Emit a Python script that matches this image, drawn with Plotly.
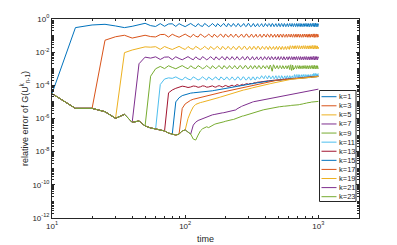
import plotly.graph_objects as go

# sample times (uniform step of 5 time units)
time = list(range(10, 1001, 5))

labels = ["k=1", "k=3", "k=5", "k=7", "k=9", "k=11", "k=13", "k=15", "k=17", "k=19", "k=21", "k=23"]
colors = ["#0072BD", "#D95319", "#EDB120", "#7E2F8E", "#77AC30", "#4DBEEE", "#A2142F",
          "#0072BD", "#D95319", "#EDB120", "#7E2F8E", "#77AC30"]

x_tick_vals = [10, 100, 1000]
x_tick_text = ["10<sup>1</sup>", "10<sup>2</sup>", "10<sup>3</sup>"]
y_tick_vals = [1e0, 1e-2, 1e-4, 1e-6, 1e-8, 1e-10, 1e-12]
y_tick_text = ["10<sup>0</sup>", "10<sup>-2</sup>", "10<sup>-4</sup>", "10<sup>-6</sup>",
               "10<sup>-8</sup>", "10<sup>-10</sup>", "10<sup>-12</sup>"]

# log10 of the relative error, one value per sample time
log_k1 = [
    -4.50, -0.52, -0.36, -0.32, -0.42, -0.52, -0.44, -0.32, -0.26, -0.40,
    -0.45, -0.28, -0.44, -0.30, -0.29, -0.45, -0.28, -0.38, -0.46, -0.36,
    -0.27, -0.38, -0.46, -0.28, -0.40, -0.45, -0.27, -0.36, -0.46, -0.39,
    -0.27, -0.37, -0.46, -0.28, -0.39, -0.46, -0.34, -0.27, -0.40, -0.46,
    -0.28, -0.33, -0.45, -0.40, -0.27, -0.35, -0.46, -0.39, -0.27, -0.36,
    -0.46, -0.43, -0.30, -0.27, -0.38, -0.46, -0.42, -0.29, -0.27, -0.39,
    -0.46, -0.44, -0.31, -0.27, -0.36, -0.46, -0.43, -0.29, -0.28, -0.40,
    -0.46, -0.41, -0.28, -0.28, -0.38, -0.46, -0.44, -0.32, -0.27, -0.34,
    -0.45, -0.45, -0.33, -0.27, -0.31, -0.43, -0.46, -0.37, -0.27, -0.30,
    -0.42, -0.46, -0.40, -0.28, -0.28, -0.39, -0.46, -0.42, -0.29, -0.27,
    -0.38, -0.46, -0.44, -0.32, -0.27, -0.33, -0.44, -0.46, -0.36, -0.27,
    -0.30, -0.42, -0.46, -0.40, -0.28, -0.28, -0.38, -0.46, -0.43, -0.30,
    -0.27, -0.35, -0.45, -0.45, -0.34, -0.27, -0.31, -0.43, -0.46, -0.38,
    -0.28, -0.29, -0.40, -0.46, -0.42, -0.29, -0.27, -0.37, -0.46, -0.44,
    -0.32, -0.27, -0.33, -0.44, -0.46, -0.36, -0.27, -0.30, -0.42, -0.46,
    -0.40, -0.28, -0.28, -0.39, -0.46, -0.43, -0.30, -0.27, -0.35, -0.45,
    -0.45, -0.33, -0.27, -0.31, -0.43, -0.46, -0.38, -0.28, -0.29, -0.41,
    -0.46, -0.41, -0.28, -0.28, -0.38, -0.46, -0.44, -0.31, -0.27, -0.34,
    -0.45, -0.45, -0.33, -0.26, -0.31, -0.43, -0.47, -0.37, -0.26, -0.30,
    -0.43, -0.46, -0.39, -0.27, -0.28, -0.40, -0.46, -0.41, -0.28,
]

log_k3 = [
    -4.50, -5.39, -5.39, -1.28, -1.07, -0.98, -1.15, -1.08, -0.98, -1.06,
    -1.08, -0.94, -0.93, -1.09, -0.92, -1.02, -1.10, -1.00, -0.91, -1.02,
    -1.10, -0.92, -1.04, -1.09, -0.91, -1.00, -1.10, -1.03, -0.91, -1.01,
    -1.10, -0.92, -1.03, -1.10, -0.98, -0.91, -1.04, -1.10, -0.92, -0.97,
    -1.09, -1.04, -0.91, -0.99, -1.10, -1.03, -0.91, -1.00, -1.10, -1.07,
    -0.94, -0.91, -1.02, -1.10, -1.06, -0.93, -0.91, -1.03, -1.10, -1.08,
    -0.95, -0.91, -1.00, -1.10, -1.07, -0.93, -0.92, -1.04, -1.10, -1.05,
    -0.92, -0.92, -1.02, -1.10, -1.08, -0.96, -0.91, -0.98, -1.09, -1.09,
    -0.97, -0.91, -0.95, -1.07, -1.10, -1.01, -0.91, -0.94, -1.06, -1.10,
    -1.04, -0.92, -0.92, -1.03, -1.10, -1.06, -0.93, -0.91, -1.02, -1.10,
    -1.08, -0.96, -0.91, -0.97, -1.08, -1.10, -1.00, -0.91, -0.94, -1.06,
    -1.10, -1.04, -0.92, -0.92, -1.02, -1.10, -1.07, -0.94, -0.91, -0.99,
    -1.09, -1.09, -0.98, -0.91, -0.95, -1.07, -1.10, -1.02, -0.92, -0.93,
    -1.04, -1.10, -1.06, -0.93, -0.91, -1.01, -1.10, -1.08, -0.96, -0.91,
    -0.97, -1.08, -1.10, -1.00, -0.91, -0.94, -1.06, -1.10, -1.04, -0.92,
    -0.92, -1.03, -1.10, -1.07, -0.94, -0.91, -0.99, -1.09, -1.09, -0.97,
    -0.91, -0.95, -1.07, -1.10, -1.02, -0.92, -0.93, -1.05, -1.10, -1.05,
    -0.92, -0.92, -1.02, -1.10, -1.08, -0.95, -0.91, -0.98, -1.09, -1.09,
    -0.97, -0.90, -0.95, -1.07, -1.11, -1.01, -0.90, -0.94, -1.07, -1.10,
    -1.03, -0.91, -0.92, -1.04, -1.10, -1.05, -0.92, -0.97, -1.09,
]

log_k5 = [
    -4.50, -5.39, -5.39, -5.59, -5.99, -2.03, -1.87, -1.78, -1.68, -1.70,
    -1.67, -1.83, -1.66, -1.76, -1.84, -1.74, -1.65, -1.76, -1.84, -1.66,
    -1.78, -1.83, -1.65, -1.74, -1.84, -1.77, -1.65, -1.75, -1.84, -1.66,
    -1.77, -1.84, -1.72, -1.65, -1.78, -1.84, -1.66, -1.71, -1.83, -1.78,
    -1.65, -1.73, -1.84, -1.77, -1.65, -1.74, -1.84, -1.81, -1.68, -1.65,
    -1.76, -1.84, -1.80, -1.67, -1.65, -1.77, -1.84, -1.82, -1.69, -1.65,
    -1.74, -1.84, -1.81, -1.67, -1.66, -1.78, -1.84, -1.79, -1.66, -1.66,
    -1.76, -1.84, -1.82, -1.70, -1.65, -1.72, -1.83, -1.83, -1.71, -1.65,
    -1.69, -1.81, -1.84, -1.75, -1.65, -1.68, -1.80, -1.84, -1.78, -1.66,
    -1.66, -1.77, -1.84, -1.80, -1.67, -1.65, -1.76, -1.84, -1.82, -1.70,
    -1.65, -1.71, -1.82, -1.84, -1.74, -1.65, -1.68, -1.80, -1.84, -1.78,
    -1.66, -1.66, -1.76, -1.84, -1.81, -1.68, -1.65, -1.73, -1.83, -1.83,
    -1.68, -1.61, -1.65, -1.77, -1.80, -1.72, -1.62, -1.63, -1.74, -1.80,
    -1.76, -1.63, -1.61, -1.71, -1.80, -1.78, -1.66, -1.61, -1.67, -1.78,
    -1.80, -1.70, -1.61, -1.64, -1.76, -1.80, -1.74, -1.62, -1.62, -1.73,
    -1.80, -1.77, -1.64, -1.61, -1.69, -1.79, -1.79, -1.67, -1.61, -1.65,
    -1.77, -1.80, -1.72, -1.62, -1.63, -1.75, -1.80, -1.75, -1.62, -1.62,
    -1.72, -1.80, -1.78, -1.65, -1.61, -1.68, -1.79, -1.79, -1.67, -1.60,
    -1.65, -1.77, -1.81, -1.71, -1.60, -1.64, -1.77, -1.80, -1.73, -1.61,
    -1.62, -1.74, -1.80, -1.75, -1.62, -1.67, -1.78, -1.80, -1.69,
]

log_k7 = [
    -4.50, -5.39, -5.39, -5.59, -5.99, -5.75, -6.23, -2.70, -2.30, -2.36,
    -2.28, -2.44, -2.30, -2.29, -2.45, -2.28, -2.38, -2.46, -2.36, -2.27,
    -2.38, -2.46, -2.28, -2.40, -2.45, -2.27, -2.36, -2.46, -2.39, -2.27,
    -2.37, -2.46, -2.28, -2.39, -2.46, -2.34, -2.27, -2.40, -2.46, -2.28,
    -2.33, -2.45, -2.40, -2.27, -2.35, -2.46, -2.39, -2.27, -2.36, -2.46,
    -2.43, -2.30, -2.27, -2.38, -2.46, -2.42, -2.29, -2.27, -2.39, -2.46,
    -2.44, -2.31, -2.27, -2.36, -2.46, -2.43, -2.29, -2.28, -2.40, -2.46,
    -2.41, -2.28, -2.28, -2.38, -2.46, -2.44, -2.32, -2.27, -2.34, -2.45,
    -2.45, -2.33, -2.27, -2.31, -2.43, -2.46, -2.37, -2.27, -2.30, -2.42,
    -2.46, -2.40, -2.28, -2.28, -2.39, -2.46, -2.42, -2.29, -2.27, -2.38,
    -2.46, -2.44, -2.32, -2.27, -2.33, -2.44, -2.46, -2.36, -2.27, -2.30,
    -2.42, -2.46, -2.40, -2.28, -2.28, -2.38, -2.46, -2.43, -2.30, -2.27,
    -2.35, -2.45, -2.45, -2.34, -2.27, -2.31, -2.43, -2.46, -2.38, -2.28,
    -2.29, -2.40, -2.46, -2.42, -2.29, -2.27, -2.37, -2.46, -2.44, -2.32,
    -2.27, -2.33, -2.44, -2.46, -2.36, -2.27, -2.30, -2.42, -2.46, -2.40,
    -2.28, -2.28, -2.39, -2.46, -2.43, -2.30, -2.27, -2.35, -2.45, -2.45,
    -2.33, -2.27, -2.31, -2.43, -2.46, -2.38, -2.28, -2.29, -2.41, -2.46,
    -2.41, -2.28, -2.28, -2.38, -2.46, -2.44, -2.31, -2.27, -2.34, -2.45,
    -2.45, -2.33, -2.26, -2.31, -2.43, -2.47, -2.37, -2.26, -2.30, -2.43,
    -2.46, -2.39, -2.27, -2.28, -2.40, -2.46, -2.41, -2.28, -2.33,
]

log_k9 = [
    -4.50, -5.39, -5.39, -5.59, -5.99, -5.75, -6.23, -6.15, -6.45, -3.45,
    -3.00, -2.86, -2.99, -2.82, -2.92, -3.00, -2.90, -2.81, -2.92, -3.00,
    -2.82, -2.94, -2.99, -2.81, -2.90, -3.00, -2.93, -2.81, -2.91, -3.00,
    -2.82, -2.93, -3.00, -2.88, -2.81, -2.94, -3.00, -2.82, -2.87, -2.99,
    -2.94, -2.81, -2.89, -3.00, -2.93, -2.81, -2.90, -3.00, -2.97, -2.84,
    -2.81, -2.92, -3.00, -2.96, -2.83, -2.81, -2.93, -3.00, -2.98, -2.85,
    -2.81, -2.90, -3.00, -2.97, -2.83, -2.82, -2.94, -3.00, -2.95, -2.82,
    -2.82, -2.92, -3.00, -2.98, -2.86, -2.81, -2.88, -2.99, -2.99, -2.87,
    -2.81, -2.85, -2.97, -3.02, -2.90, -2.78, -2.86, -3.05, -3.15, -2.95,
    -2.76, -2.82, -2.93, -3.00, -2.96, -2.83, -2.81, -2.92, -3.00, -2.98,
    -2.86, -2.81, -2.87, -2.98, -3.00, -2.90, -2.81, -2.84, -2.96, -3.00,
    -2.94, -2.82, -2.82, -2.92, -3.00, -2.97, -2.84, -2.81, -2.89, -2.99,
    -3.05, -2.80, -2.76, -2.95, -3.10, -2.98, -2.78, -2.84, -3.06, -2.96,
    -3.00, -2.96, -2.83, -2.81, -2.91, -3.00, -2.98, -2.86, -2.81, -2.87,
    -2.98, -3.00, -2.90, -2.81, -2.84, -2.96, -3.00, -2.94, -2.82, -2.82,
    -2.93, -3.00, -2.97, -2.84, -2.81, -2.89, -2.99, -2.99, -2.87, -2.81,
    -2.85, -2.97, -3.00, -2.92, -2.82, -2.83, -2.95, -3.00, -2.95, -2.82,
    -2.82, -2.92, -3.00, -2.98, -2.85, -2.81, -2.88, -2.99, -2.99, -2.87,
    -2.80, -2.85, -2.97, -3.01, -2.91, -2.80, -2.84, -2.97, -3.00, -2.93,
    -2.81, -2.82, -2.94, -3.00, -2.95, -2.82, -2.87, -2.99, -2.96,
]

log_k11 = [
    -4.50, -5.39, -5.39, -5.59, -5.99, -5.75, -6.23, -6.15, -6.45, -6.57,
    -6.63, -3.95, -3.62, -3.55, -3.58, -3.49, -3.60, -3.68, -3.50, -3.62,
    -3.67, -3.49, -3.58, -3.68, -3.61, -3.49, -3.59, -3.68, -3.50, -3.61,
    -3.68, -3.56, -3.49, -3.62, -3.68, -3.50, -3.55, -3.67, -3.62, -3.49,
    -3.57, -3.68, -3.61, -3.49, -3.58, -3.68, -3.65, -3.52, -3.49, -3.60,
    -3.68, -3.64, -3.51, -3.49, -3.61, -3.68, -3.66, -3.53, -3.49, -3.58,
    -3.68, -3.65, -3.51, -3.50, -3.62, -3.68, -3.63, -3.50, -3.50, -3.60,
    -3.61, -3.59, -3.47, -3.42, -3.49, -3.60, -3.60, -3.48, -3.42, -3.46,
    -3.58, -3.61, -3.52, -3.42, -3.45, -3.57, -3.61, -3.55, -3.43, -3.43,
    -3.54, -3.61, -3.57, -3.44, -3.42, -3.53, -3.61, -3.59, -3.47, -3.42,
    -3.48, -3.59, -3.61, -3.51, -3.42, -3.45, -3.57, -3.61, -3.55, -3.43,
    -3.43, -3.53, -3.61, -3.58, -3.45, -3.42, -3.50, -3.60, -3.60, -3.49,
    -3.42, -3.46, -3.58, -3.61, -3.53, -3.43, -3.44, -3.55, -3.61, -3.57,
    -3.37, -3.35, -3.45, -3.54, -3.52, -3.40, -3.35, -3.41, -3.52, -3.54,
    -3.44, -3.35, -3.38, -3.50, -3.54, -3.48, -3.36, -3.36, -3.47, -3.54,
    -3.51, -3.38, -3.35, -3.43, -3.53, -3.53, -3.41, -3.35, -3.39, -3.51,
    -3.54, -3.46, -3.36, -3.37, -3.49, -3.54, -3.49, -3.36, -3.36, -3.46,
    -3.54, -3.52, -3.39, -3.35, -3.42, -3.53, -3.53, -3.41, -3.34, -3.39,
    -3.45, -3.49, -3.39, -3.28, -3.32, -3.45, -3.48, -3.41, -3.29, -3.30,
    -3.42, -3.48, -3.43, -3.30, -3.35, -3.47, -3.46, -3.32, -3.29,
]

log_k13 = [
    -4.50, -5.39, -5.39, -5.59, -5.99, -5.75, -6.23, -6.15, -6.45, -6.57,
    -6.63, -6.69, -6.75, -4.45, -4.28, -4.18, -4.10, -4.05, -4.08, -4.13,
    -4.10, -4.04, -4.06, -4.12, -4.09, -4.03, -4.05, -4.11, -4.10, -4.04,
    -4.03, -4.09, -4.11, -4.05, -4.02, -4.06, -4.10, -4.06, -4.01, -4.03,
    -4.08, -4.06, -4.00, -3.99, -4.04, -4.05, -4.00, -3.96, -3.98, -4.02,
    -3.99, -3.94, -3.94, -3.98, -3.97, -3.92, -3.90, -3.93, -3.94, -3.89,
    -3.87, -3.89, -3.90, -3.86, -3.84, -3.86, -3.86, -3.83, -3.81, -3.82,
    -3.81, -3.80, -3.79, -3.78, -3.78, -3.77, -3.76, -3.76, -3.75, -3.74,
    -3.74, -3.74, -3.73, -3.73, -3.72, -3.72, -3.71, -3.71, -3.71, -3.70,
    -3.70, -3.69, -3.69, -3.69, -3.68, -3.68, -3.68, -3.67, -3.67, -3.67,
    -3.66, -3.66, -3.66, -3.65, -3.65, -3.65, -3.64, -3.64, -3.64, -3.63,
    -3.63, -3.63, -3.63, -3.62, -3.62, -3.62, -3.61, -3.61, -3.61, -3.61,
    -3.60, -3.60, -3.60, -3.60, -3.59, -3.59, -3.59, -3.59, -3.58, -3.58,
    -3.58, -3.58, -3.58, -3.57, -3.57, -3.57, -3.57, -3.57, -3.56, -3.56,
    -3.56, -3.56, -3.56, -3.55, -3.55, -3.55, -3.55, -3.54, -3.54, -3.54,
    -3.54, -3.54, -3.53, -3.53, -3.53, -3.53, -3.53, -3.52, -3.52, -3.52,
    -3.52, -3.51, -3.51, -3.51, -3.51, -3.51, -3.50, -3.50, -3.50, -3.50,
    -3.50, -3.49, -3.49, -3.49, -3.49, -3.49, -3.48, -3.48, -3.48, -3.48,
    -3.48, -3.48, -3.47, -3.47, -3.47, -3.47, -3.47, -3.46, -3.46, -3.46,
    -3.46, -3.46, -3.46, -3.45, -3.45, -3.45, -3.45, -3.45, -3.44,
]

# common late envelope that k=15 and k=17 run along (t = 360 ... 1000)
log_envelope_late = [
    -3.83, -3.82, -3.81, -3.80, -3.80, -3.79, -3.78, -3.78, -3.77, -3.76,
    -3.76, -3.76, -3.75, -3.75, -3.74, -3.74, -3.73, -3.73, -3.73, -3.72,
    -3.72, -3.71, -3.71, -3.71, -3.70, -3.70, -3.70, -3.69, -3.69, -3.69,
    -3.68, -3.68, -3.68, -3.67, -3.67, -3.67, -3.66, -3.66, -3.66, -3.65,
    -3.65, -3.65, -3.65, -3.64, -3.64, -3.64, -3.63, -3.63, -3.63, -3.63,
    -3.62, -3.62, -3.62, -3.62, -3.61, -3.61, -3.61, -3.61, -3.60, -3.60,
    -3.60, -3.60, -3.60, -3.59, -3.59, -3.59, -3.59, -3.59, -3.58, -3.58,
    -3.58, -3.58, -3.58, -3.57, -3.57, -3.57, -3.57, -3.56, -3.56, -3.56,
    -3.56, -3.56, -3.55, -3.55, -3.55, -3.55, -3.55, -3.54, -3.54, -3.54,
    -3.54, -3.53, -3.53, -3.53, -3.53, -3.53, -3.52, -3.52, -3.52, -3.52,
    -3.52, -3.51, -3.51, -3.51, -3.51, -3.51, -3.50, -3.50, -3.50, -3.50,
    -3.50, -3.50, -3.49, -3.49, -3.49, -3.49, -3.49, -3.48, -3.48, -3.48,
    -3.48, -3.48, -3.48, -3.47, -3.47, -3.47, -3.47, -3.47, -3.46,
]

# k=15 until t = 355
log_k15_early = [
    -4.50, -5.39, -5.39, -5.59, -5.99, -5.75, -6.23, -6.15, -6.45, -6.57,
    -6.63, -6.69, -6.75, -6.88, -6.94, -5.00, -4.75, -4.62, -4.56, -4.50,
    -4.47, -4.45, -4.44, -4.42, -4.41, -4.40, -4.39, -4.38, -4.37, -4.35,
    -4.33, -4.31, -4.29, -4.27, -4.25, -4.23, -4.21, -4.19, -4.17, -4.16,
    -4.14, -4.13, -4.11, -4.10, -4.08, -4.07, -4.05, -4.04, -4.02, -4.01,
    -4.00, -3.99, -3.98, -3.97, -3.96, -3.95, -3.94, -3.93, -3.92, -3.91,
    -3.90, -3.90, -3.89, -3.88, -3.87, -3.86, -3.86, -3.85, -3.84, -3.84,
]

# k=17 until t = 505
log_k17_early = [
    -4.50, -5.39, -5.39, -5.59, -5.99, -5.75, -6.23, -6.15, -6.45, -6.57,
    -6.63, -6.69, -6.75, -6.88, -6.94, -7.00, -6.94, -5.39, -5.12, -4.98,
    -4.90, -4.84, -4.80, -4.76, -4.72, -4.69, -4.65, -4.62, -4.60, -4.57,
    -4.54, -4.52, -4.49, -4.47, -4.45, -4.43, -4.41, -4.39, -4.37, -4.35,
    -4.34, -4.32, -4.31, -4.29, -4.27, -4.26, -4.24, -4.23, -4.21, -4.19,
    -4.17, -4.15, -4.14, -4.12, -4.10, -4.09, -4.07, -4.06, -4.04, -4.03,
    -4.02, -4.00, -3.99, -3.98, -3.97, -3.96, -3.95, -3.94, -3.93, -3.92,
    -3.90, -3.89, -3.88, -3.87, -3.86, -3.85, -3.84, -3.83, -3.82, -3.81,
    -3.80, -3.79, -3.78, -3.77, -3.77, -3.76, -3.75, -3.75, -3.74, -3.73,
    -3.73, -3.72, -3.72, -3.71, -3.71, -3.70, -3.70, -3.69, -3.69, -3.69,
]

log_k15 = log_k15_early + log_envelope_late
log_k17 = log_k17_early + log_envelope_late[30:]

log_k19 = [
    -4.50, -5.39, -5.39, -5.59, -5.99, -5.75, -6.23, -6.15, -6.45, -6.57,
    -6.63, -6.69, -6.75, -6.88, -6.94, -7.00, -6.94, -6.75, -6.69, -6.00,
    -5.60, -5.30, -5.15, -5.08, -5.04, -5.01, -4.98, -4.94, -4.90, -4.86,
    -4.83, -4.80, -4.78, -4.76, -4.73, -4.70, -4.67, -4.64, -4.61, -4.58,
    -4.55, -4.52, -4.49, -4.47, -4.45, -4.43, -4.41, -4.39, -4.37, -4.35,
    -4.33, -4.31, -4.30, -4.28, -4.27, -4.26, -4.24, -4.23, -4.21, -4.20,
    -4.18, -4.17, -4.15, -4.14, -4.12, -4.11, -4.10, -4.08, -4.07, -4.06,
    -4.05, -4.04, -4.03, -4.02, -4.01, -4.00, -3.99, -3.98, -3.97, -3.96,
    -3.95, -3.94, -3.93, -3.92, -3.91, -3.90, -3.89, -3.88, -3.87, -3.86,
    -3.85, -3.84, -3.84, -3.83, -3.82, -3.81, -3.80, -3.79, -3.79, -3.78,
    -3.77, -3.76, -3.76, -3.75, -3.74, -3.73, -3.73, -3.72, -3.71, -3.71,
    -3.70, -3.69, -3.69, -3.68, -3.68, -3.67, -3.67, -3.66, -3.66, -3.65,
    -3.65, -3.64, -3.64, -3.64, -3.63, -3.63, -3.63, -3.62, -3.62, -3.62,
    -3.61, -3.61, -3.61, -3.61, -3.60, -3.60, -3.60, -3.60, -3.59, -3.59,
    -3.59, -3.59, -3.59, -3.58, -3.58, -3.58, -3.58, -3.57, -3.57, -3.57,
    -3.57, -3.57, -3.56, -3.56, -3.56, -3.56, -3.56, -3.55, -3.55, -3.55,
    -3.55, -3.54, -3.54, -3.54, -3.54, -3.54, -3.53, -3.53, -3.53, -3.53,
    -3.53, -3.52, -3.52, -3.52, -3.52, -3.52, -3.51, -3.51, -3.51, -3.51,
    -3.51, -3.51, -3.50, -3.50, -3.50, -3.50, -3.50, -3.49, -3.49, -3.49,
    -3.49, -3.49, -3.49, -3.48, -3.48, -3.48, -3.48, -3.48, -3.47,
]

log_k21 = [
    -4.50, -5.39, -5.39, -5.59, -5.99, -5.75, -6.23, -6.15, -6.45, -6.57,
    -6.63, -6.69, -6.75, -6.88, -6.94, -7.00, -6.94, -6.75, -6.69, -6.82,
    -6.94, -6.40, -6.22, -6.12, -6.06, -6.02, -5.98, -5.93, -5.86, -5.82,
    -5.78, -5.76, -5.73, -5.71, -5.70, -5.68, -5.66, -5.65, -5.63, -5.62,
    -5.61, -5.60, -5.58, -5.57, -5.56, -5.53, -5.48, -5.42, -5.37, -5.33,
    -5.30, -5.27, -5.24, -5.21, -5.18, -5.16, -5.13, -5.11, -5.09, -5.07,
    -5.05, -5.03, -5.01, -4.99, -4.98, -4.96, -4.95, -4.94, -4.93, -4.92,
    -4.91, -4.90, -4.89, -4.88, -4.88, -4.87, -4.86, -4.86, -4.85, -4.84,
    -4.83, -4.82, -4.81, -4.80, -4.79, -4.79, -4.78, -4.77, -4.76, -4.75,
    -4.75, -4.74, -4.73, -4.73, -4.72, -4.72, -4.71, -4.71, -4.70, -4.70,
    -4.69, -4.68, -4.68, -4.67, -4.66, -4.66, -4.65, -4.65, -4.64, -4.63,
    -4.63, -4.62, -4.62, -4.61, -4.61, -4.60, -4.60, -4.60, -4.59, -4.59,
    -4.58, -4.58, -4.57, -4.56, -4.56, -4.55, -4.55, -4.54, -4.53, -4.53,
    -4.52, -4.52, -4.51, -4.51, -4.50, -4.50, -4.49, -4.49, -4.48, -4.48,
    -4.47, -4.47, -4.46, -4.46, -4.45, -4.45, -4.44, -4.44, -4.43, -4.43,
    -4.42, -4.42, -4.41, -4.41, -4.40, -4.40, -4.39, -4.39, -4.38, -4.38,
    -4.37, -4.37, -4.36, -4.36, -4.35, -4.35, -4.34, -4.34, -4.33, -4.33,
    -4.32, -4.32, -4.31, -4.31, -4.30, -4.30, -4.30, -4.29, -4.29, -4.29,
    -4.28, -4.28, -4.28, -4.27, -4.27, -4.27, -4.26, -4.26, -4.26, -4.26,
    -4.25, -4.25, -4.25, -4.24, -4.24, -4.24, -4.24, -4.23, -4.23,
]

log_k23 = [
    -4.50, -5.39, -5.39, -5.59, -5.99, -5.75, -6.23, -6.15, -6.45, -6.57,
    -6.63, -6.69, -6.75, -6.88, -6.94, -7.00, -6.94, -6.75, -6.69, -6.82,
    -6.94, -7.24, -7.30, -7.00, -6.75, -6.62, -6.56, -6.50, -6.55, -6.47,
    -6.40, -6.36, -6.32, -6.30, -6.29, -6.28, -6.24, -6.20, -6.17, -6.14,
    -6.12, -6.10, -6.09, -6.07, -6.06, -6.03, -6.00, -5.96, -5.92, -5.90,
    -5.88, -5.86, -5.85, -5.84, -5.82, -5.80, -5.77, -5.75, -5.72, -5.70,
    -5.68, -5.66, -5.64, -5.62, -5.61, -5.59, -5.58, -5.56, -5.55, -5.54,
    -5.53, -5.52, -5.51, -5.50, -5.49, -5.48, -5.47, -5.46, -5.45, -5.44,
    -5.43, -5.42, -5.41, -5.40, -5.39, -5.38, -5.37, -5.36, -5.35, -5.34,
    -5.33, -5.33, -5.32, -5.32, -5.31, -5.31, -5.30, -5.30, -5.29, -5.29,
    -5.29, -5.29, -5.28, -5.28, -5.28, -5.27, -5.27, -5.27, -5.26, -5.26,
    -5.26, -5.25, -5.25, -5.25, -5.24, -5.24, -5.24, -5.23, -5.23, -5.23,
    -5.22, -5.22, -5.22, -5.21, -5.21, -5.21, -5.21, -5.20, -5.20, -5.20,
    -5.20, -5.19, -5.19, -5.19, -5.19, -5.19, -5.18, -5.18, -5.18, -5.18,
    -5.17, -5.17, -5.16, -5.16, -5.15, -5.15, -5.14, -5.14, -5.13, -5.13,
    -5.12, -5.12, -5.11, -5.11, -5.10, -5.10, -5.09, -5.09, -5.08, -5.08,
    -5.07, -5.07, -5.06, -5.06, -5.05, -5.05, -5.04, -5.04, -5.03, -5.03,
    -5.03, -5.02, -5.02, -5.02, -5.02, -5.01, -5.01, -5.01, -5.01, -5.01,
    -5.00, -5.00, -5.00, -5.00, -5.00, -5.00, -4.99, -4.99, -4.99, -4.99,
    -4.99, -4.99, -4.98, -4.98, -4.98, -4.98, -4.98, -4.98, -4.97,
]

series = [log_k1, log_k3, log_k5, log_k7, log_k9, log_k11, log_k13,
          log_k15, log_k17, log_k19, log_k21, log_k23]
for name, s in zip(labels, series):
    if len(s) != len(time):
        raise ValueError(f"{name}: {len(s)} values, expected {len(time)}")

fig = go.Figure()
for name, logs, col in zip(labels, series, colors):
    fig.add_trace(go.Scatter(
        x=time, y=[10 ** v for v in logs], mode="lines", name=name,
        line=dict(color=col, width=1), showlegend=False, hoverinfo="skip",
    ))

AX = "#262626"
FONT = "Liberation Sans, Arial, Helvetica, sans-serif"

# minor tick positions (2..9 times each power of ten)
x_minor = [m * 10 ** e for e in range(1, 4) for m in range(2, 10)]
y_minor = [m * 10.0 ** e for e in range(-12, 0) for m in range(1, 10)]

fig.update_layout(
    width=397, height=245,
    margin=dict(l=52, r=38, t=19, b=27, autoexpand=False),
    paper_bgcolor="white", plot_bgcolor="white",
    font=dict(family=FONT, size=8, color=AX),
)
fig.update_xaxes(
    type="log", range=[1, 3.305], tickmode="array",
    tickvals=x_tick_vals, ticktext=x_tick_text, automargin=False,
    showline=True, linecolor=AX, linewidth=1, mirror="ticks",
    ticks="inside", ticklen=3, tickcolor=AX, tickwidth=1,
    minor=dict(tickmode="array", tickvals=x_minor, ticks="inside", ticklen=2, tickcolor=AX),
    showgrid=False, zeroline=False,
    tickfont=dict(size=8, color=AX),
    title=dict(text="time", font=dict(size=9, color=AX), standoff=6),
)
fig.update_yaxes(
    type="log", range=[-12, 0], tickmode="array",
    tickvals=y_tick_vals, ticktext=y_tick_text, automargin=False,
    showline=True, linecolor=AX, linewidth=1, mirror="ticks",
    ticks="inside", ticklen=3, tickcolor=AX, tickwidth=1,
    minor=dict(tickmode="array", tickvals=y_minor, ticks="inside", ticklen=2, tickcolor=AX),
    showgrid=False, zeroline=False,
    tickfont=dict(size=8, color=AX),
    title=dict(text="relative error of G(U<sup>k</sup><sub>n-1</sub>)",
               font=dict(size=9, color=AX), standoff=2),
)

# legend box (paper coordinates derived from the plot-area pixels)
plot_l, plot_r, plot_t, plot_b = 52, 359, 19, 218
def px(xp):
    return (xp - plot_l) / (plot_r - plot_l)
def py(yp):
    return (plot_b - yp) / (plot_b - plot_t)

fig.add_shape(type="rect", xref="paper", yref="paper",
              x0=px(319.5), x1=px(356), y0=py(201.5), y1=py(90.5),
              line=dict(color=AX, width=1), fillcolor="white", layer="above")
for j, (name, col) in enumerate(zip(labels, colors)):
    yy = py(96.7 + 9.09 * j)
    fig.add_shape(type="line", xref="paper", yref="paper",
                  x0=px(321.5), x1=px(336.5), y0=yy, y1=yy,
                  line=dict(color=col, width=1), layer="above")
    fig.add_annotation(xref="paper", yref="paper", x=px(338), y=yy,
                       text=name, showarrow=False, xanchor="left", yanchor="middle",
                       borderpad=0, font=dict(size=7.5, color=AX, family=FONT))

# the page's default body margin would shift the figure by 8 px; remove it
fig.write_html("out.html",
               config={"displayModeBar": False, "staticPlot": True},
               post_script="document.body.style.margin='0';document.body.style.padding='0';")
